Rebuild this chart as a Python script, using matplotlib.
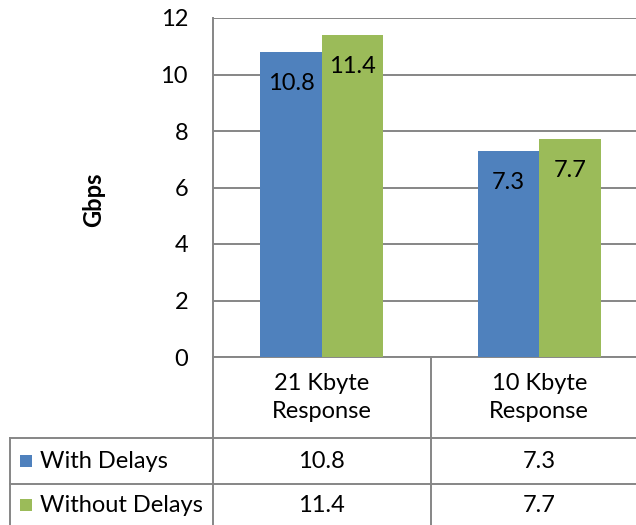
import matplotlib
matplotlib.use("Agg")
import matplotlib.pyplot as plt
from matplotlib.lines import Line2D
from matplotlib.patches import Rectangle
from matplotlib.transforms import blended_transform_factory

# data
categories = ["21 Kbyte\nResponse", "10 Kbyte\nResponse"]
series_names = ["With Delays", "Without Delays"]
with_delays = [10.8, 7.3]
without_delays = [11.4, 7.7]
y_ticks = [0, 2, 4, 6, 8, 10, 12]

BLUE = "#4F81BD"
GREEN = "#9BBB59"
GRID = "#868686"
FS = 17

plt.rcParams['font.family'] = ['Lato', 'DejaVu Sans']

W, H = 636, 525
fig = plt.figure(figsize=(W / 100, H / 100), dpi=100)

# plot area in pixels
left, right, top, base = 213, 648, 18, 357
ax = fig.add_axes([left / W, (H - base) / H, (right - left) / W, (base - top) / H])

x = list(range(len(categories)))
bw = 0.283
b1 = ax.bar([i - bw / 2 for i in x], with_delays, bw, color=BLUE, zorder=3)
b2 = ax.bar([i + bw / 2 for i in x], without_delays, bw, color=GREEN, zorder=3)

# labels inside bar tops
for bars in (b1, b2):
    for r in bars:
        ax.annotate(f"{r.get_height():.1f}", (r.get_x() + r.get_width() / 2, r.get_height()),
                    xytext=(0, -15), textcoords="offset points", ha="center", va="top",
                    fontsize=FS, zorder=4)

ax.set_xlim(-0.5, len(categories) - 0.5)
ax.set_ylim(0, 12)
ax.set_yticks(y_ticks)
ax.set_xticks([])
ax.tick_params(axis="y", length=0, pad=18, labelsize=FS)
ax.yaxis.grid(True, color=GRID, linewidth=1.4, zorder=0)
for s in ("top", "right"):
    ax.spines[s].set_visible(False)
for s in ("left", "bottom"):
    ax.spines[s].set_color(GRID)
    ax.spines[s].set_linewidth(1.4)
ax.set_ylabel("Gbps", fontsize=FS, fontweight="bold")
ax.yaxis.set_label_coords(-0.248, 0.463)

# data table under the chart
tr = blended_transform_factory(ax.transData, fig.transFigure)
px = fig.transFigure


def fy(p):
    return (H - p) / H


def hline(y, x0, x1, trans):
    fig.add_artist(Line2D([x0, x1], [fy(y), fy(y)], transform=trans, color=GRID, linewidth=1.4))


def vline(xv, y0, y1, trans):
    fig.add_artist(Line2D([xv, xv], [fy(y0), fy(y1)], transform=trans, color=GRID, linewidth=1.4))


row1, row2, bottom = 438, 484, 530
tab_left = 10
hline(row1, tab_left / W, 1.1, px)
hline(row2, tab_left / W, 1.1, px)
hline(bottom, tab_left / W, 1.1, px)
vline(tab_left / W, row1, bottom, px)
# column dividers at category boundaries
for k in range(len(categories) + 1):
    vline(k - 0.5, base, bottom, tr)

for i, cat in enumerate(categories):
    fig.text(i, fy((base + row1) / 2), cat, transform=tr, ha="center", va="center",
             fontsize=FS, linespacing=1.4)
    fig.text(i, fy((row1 + row2) / 2), f"{with_delays[i]:.1f}", transform=tr,
             ha="center", va="center", fontsize=FS)
    fig.text(i, fy((row2 + bottom) / 2 - 2), f"{without_delays[i]:.1f}", transform=tr,
             ha="center", va="center", fontsize=FS)

for name, col, (y0, y1) in zip(series_names, (BLUE, GREEN), ((row1, row2), (row2, bottom - 4))):
    yc = (y0 + y1) / 2
    fig.add_artist(Rectangle((20 / W, fy(yc + 6)), 12 / W, 12 / H, transform=px,
                             facecolor=col, edgecolor="none"))
    fig.text(40 / W, fy(yc), name, transform=px, ha="left", va="center", fontsize=FS)

fig.savefig("out.png", dpi=100)
